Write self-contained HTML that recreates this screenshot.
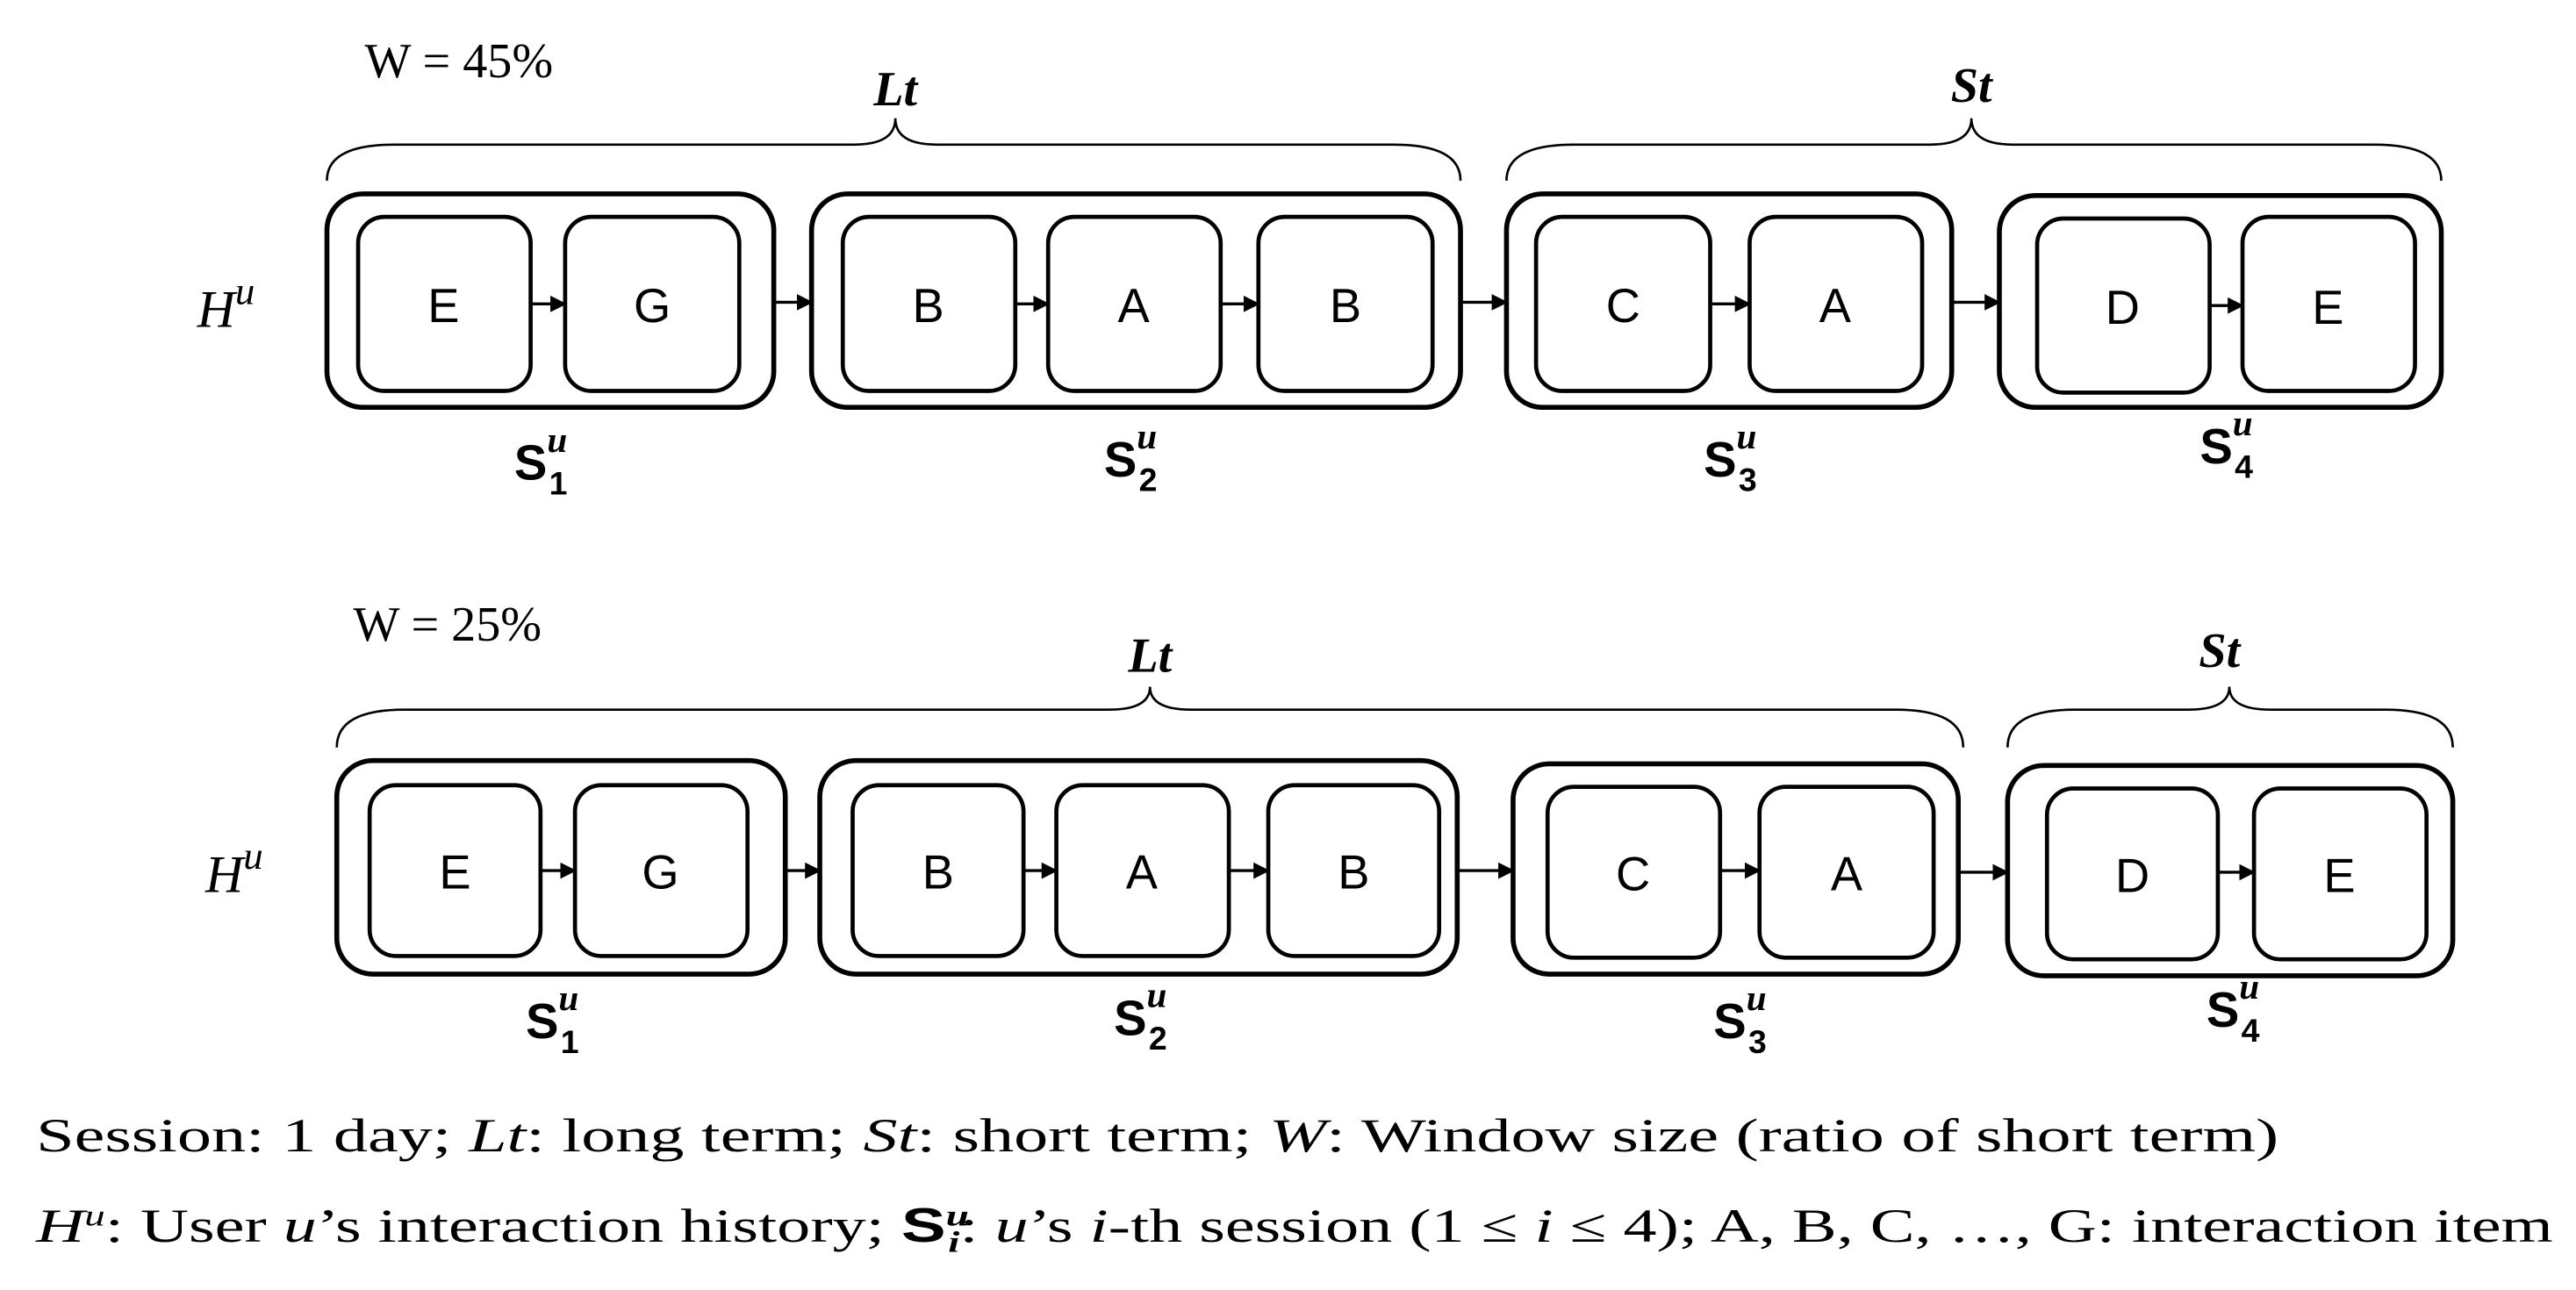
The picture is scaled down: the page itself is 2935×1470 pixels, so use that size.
<!DOCTYPE html>
<html><head><meta charset="utf-8"><style>html,body{margin:0;padding:0;background:#fff}svg{display:block}</style></head>
<body>
<svg xmlns="http://www.w3.org/2000/svg" width="2935" height="1470" viewBox="0 0 1568 785.3">
<defs>
<marker id="ah" markerWidth="10" markerHeight="10" refX="9" refY="5" orient="auto" markerUnits="userSpaceOnUse"><path d="M0,0 L10,5 L0,10 Z" fill="#000"/></marker>
</defs>
<g fill="none" stroke="#000">
<!-- Row 1 braces -->
<path stroke-width="1.4" d="M199,110 Q199,88 240,88 L520,88 Q545,88 545,72 Q545,88 570,88 L848,88 Q889,88 889,110"/>
<path stroke-width="1.4" d="M917,110 Q917,88 958,88 L1175,88 Q1200,88 1200,72 Q1200,88 1225,88 L1445,88 Q1486,88 1486,110"/>
<!-- Row 1 outer -->
<g stroke-width="3">
<rect x="199" y="118" width="272" height="130" rx="22"/>
<rect x="494" y="118" width="395" height="130" rx="22"/>
<rect x="917" y="118" width="271" height="130" rx="22"/>
<rect x="1217" y="119" width="269" height="129" rx="22"/>
</g>
<g stroke-width="2.5">
<rect x="218" y="132" width="105" height="106" rx="16"/>
<rect x="344" y="132" width="106" height="106" rx="16"/>
<rect x="513" y="132" width="105" height="106" rx="16"/>
<rect x="638" y="132" width="105" height="106" rx="16"/>
<rect x="766" y="132" width="106" height="106" rx="16"/>
<rect x="935" y="132" width="106" height="106" rx="16"/>
<rect x="1065" y="132" width="105" height="106" rx="16"/>
<rect x="1240" y="133" width="105" height="106" rx="16"/>
<rect x="1365" y="132" width="105" height="106" rx="16"/>
</g>
<g stroke-width="1.8" marker-end="url(#ah)">
<line x1="323" y1="185" x2="344" y2="185"/>
<line x1="471" y1="184" x2="494" y2="184"/>
<line x1="618" y1="185" x2="638" y2="185"/>
<line x1="743" y1="185" x2="766" y2="185"/>
<line x1="889" y1="184" x2="917" y2="184"/>
<line x1="1041" y1="185" x2="1065" y2="185"/>
<line x1="1188" y1="184" x2="1217" y2="184"/>
<line x1="1345" y1="186" x2="1365" y2="186"/>
</g>
<!-- Row 2 braces -->
<path stroke-width="1.4" d="M205,455 Q205,432 246,432 L675,432 Q700,432 700,418 Q700,432 725,432 L1154,432 Q1195,432 1195,455"/>
<path stroke-width="1.4" d="M1222,455 Q1222,432 1263,432 L1332,432 Q1357,432 1357,418 Q1357,432 1382,432 L1452,432 Q1493,432 1493,455"/>
<g stroke-width="3">
<rect x="205" y="463" width="273" height="130" rx="22"/>
<rect x="499" y="463" width="388" height="130" rx="22"/>
<rect x="921" y="465" width="271" height="128" rx="22"/>
<rect x="1222" y="466" width="271" height="128" rx="22"/>
</g>
<g stroke-width="2.5">
<rect x="225" y="478" width="104" height="104" rx="16"/>
<rect x="350" y="478" width="105" height="104" rx="16"/>
<rect x="519" y="478" width="104" height="104" rx="16"/>
<rect x="643" y="478" width="105" height="104" rx="16"/>
<rect x="772" y="478" width="104" height="104" rx="16"/>
<rect x="942" y="479" width="105" height="104" rx="16"/>
<rect x="1071" y="479" width="106" height="104" rx="16"/>
<rect x="1246" y="480" width="104" height="104" rx="16"/>
<rect x="1372" y="480" width="105" height="104" rx="16"/>
</g>
<g stroke-width="1.8" marker-end="url(#ah)">
<line x1="329" y1="530" x2="350" y2="530"/>
<line x1="478" y1="530" x2="499" y2="530"/>
<line x1="623" y1="530" x2="643" y2="530"/>
<line x1="748" y1="530" x2="772" y2="530"/>
<line x1="887" y1="530" x2="921" y2="530"/>
<line x1="1047" y1="530" x2="1071" y2="530"/>
<line x1="1192" y1="531" x2="1222" y2="531"/>
<line x1="1350" y1="531" x2="1372" y2="531"/>
</g>
</g>
<g font-family="Liberation Sans, sans-serif" font-size="29" text-anchor="middle" fill="#000">
<text x="270" y="196">E</text><text x="397" y="196">G</text>
<text x="565" y="196">B</text><text x="690" y="196">A</text><text x="819" y="196">B</text>
<text x="988" y="196">C</text><text x="1117" y="196">A</text>
<text x="1292" y="197">D</text><text x="1417" y="197">E</text>
<text x="277" y="541">E</text><text x="402" y="541">G</text>
<text x="571" y="541">B</text><text x="695" y="541">A</text><text x="824" y="541">B</text>
<text x="994" y="542">C</text><text x="1124" y="542">A</text>
<text x="1298" y="543">D</text><text x="1424" y="543">E</text>
</g>
<g font-family="Liberation Serif, serif" fill="#000">
<text x="222" y="47" font-size="30">W = 45%</text>
<text x="215" y="390" font-size="30">W = 25%</text>
<text x="545" y="64" font-size="30" font-style="italic" font-weight="bold" text-anchor="middle">Lt</text>
<text x="1200" y="62" font-size="30" font-style="italic" font-weight="bold" text-anchor="middle">St</text>
<text x="700" y="409" font-size="30" font-style="italic" font-weight="bold" text-anchor="middle">Lt</text>
<text x="1351" y="406" font-size="30" font-style="italic" font-weight="bold" text-anchor="middle">St</text>
<text x="120" y="199" font-size="32" font-style="italic">H<tspan font-size="24" dy="-14">u</tspan></text>
<text x="125" y="543" font-size="32" font-style="italic">H<tspan font-size="24" dy="-14">u</tspan></text>
</g>
<g font-family="Liberation Sans, sans-serif" font-weight="bold" fill="#000" font-size="30">
<text x="313" y="292">S<tspan font-family="Liberation Serif, serif" font-style="italic" font-size="22" dy="-17">u</tspan><tspan font-size="20" dx="-11" dy="26">1</tspan></text>
<text x="672" y="290">S<tspan font-family="Liberation Serif, serif" font-style="italic" font-size="22" dy="-17">u</tspan><tspan font-size="20" dx="-11" dy="26">2</tspan></text>
<text x="1037" y="290">S<tspan font-family="Liberation Serif, serif" font-style="italic" font-size="22" dy="-17">u</tspan><tspan font-size="20" dx="-11" dy="26">3</tspan></text>
<text x="1339" y="282">S<tspan font-family="Liberation Serif, serif" font-style="italic" font-size="22" dy="-17">u</tspan><tspan font-size="20" dx="-11" dy="26">4</tspan></text>
<text x="320" y="632">S<tspan font-family="Liberation Serif, serif" font-style="italic" font-size="22" dy="-17">u</tspan><tspan font-size="20" dx="-11" dy="26">1</tspan></text>
<text x="678" y="630">S<tspan font-family="Liberation Serif, serif" font-style="italic" font-size="22" dy="-17">u</tspan><tspan font-size="20" dx="-11" dy="26">2</tspan></text>
<text x="1043" y="632">S<tspan font-family="Liberation Serif, serif" font-style="italic" font-size="22" dy="-17">u</tspan><tspan font-size="20" dx="-11" dy="26">3</tspan></text>
<text x="1343" y="625">S<tspan font-family="Liberation Serif, serif" font-style="italic" font-size="22" dy="-17">u</tspan><tspan font-size="20" dx="-11" dy="26">4</tspan></text>
</g>
<g font-family="Liberation Serif, serif" fill="#000" font-size="29">
<text x="22" y="701" textLength="1365" lengthAdjust="spacingAndGlyphs">Session: 1 day; <tspan font-style="italic">Lt</tspan>: long term; <tspan font-style="italic">St</tspan>: short term; <tspan font-style="italic">W</tspan>: Window size (ratio of short term)</text>
<text x="22" y="756" textLength="1532" lengthAdjust="spacingAndGlyphs"><tspan font-style="italic">H</tspan><tspan font-style="italic" font-size="18" dy="-10">u</tspan><tspan dy="10">: User </tspan><tspan font-style="italic">u</tspan>’s interaction history; <tspan font-family="Liberation Sans, sans-serif" font-weight="bold">S</tspan><tspan font-style="italic" font-weight="bold" font-size="18" dy="-10">u</tspan><tspan font-style="italic" font-weight="bold" font-size="18" dx="-9" dy="16">i</tspan><tspan dy="-6">: </tspan><tspan font-style="italic">u</tspan>’s <tspan font-style="italic">i</tspan>-th session (1 ≤ <tspan font-style="italic">i</tspan> ≤ 4); A, B, C, …, G: interaction item</text>
</g>
</svg>
</body></html>
